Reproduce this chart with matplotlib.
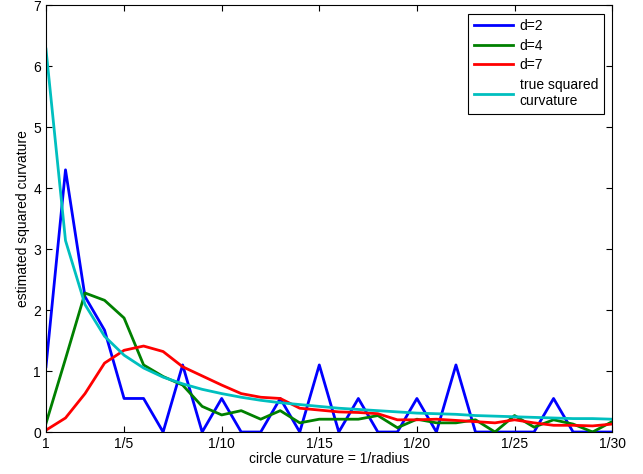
import numpy as np
import matplotlib.pyplot as plt

plt.rcParams['font.family'] = ['Liberation Sans', 'DejaVu Sans']

# x = 1..30 (radius), ticks shown as 1/r
r = np.arange(1, 31)
d2 = [1.07, 4.30, 2.22, 1.67, 0.55, 0.55, 0.0, 1.10, 0.0, 0.55,
      0.0, 0.0, 0.55, 0.0, 1.10, 0.0, 0.55, 0.0, 0.0, 0.55,
      0.0, 1.10, 0.0, 0.0, 0.0, 0.0, 0.55, 0.0, 0.0, 0.0]
d4 = [0.14, 1.20, 2.28, 2.16, 1.87, 1.10, 0.91, 0.77, 0.42, 0.28,
      0.35, 0.21, 0.35, 0.15, 0.21, 0.21, 0.21, 0.27, 0.07, 0.21,
      0.15, 0.15, 0.20, 0.0, 0.27, 0.08, 0.20, 0.13, 0.0, 0.17]
d7 = [0.03, 0.23, 0.63, 1.13, 1.34, 1.41, 1.32, 1.07, 0.92, 0.77,
      0.63, 0.57, 0.55, 0.39, 0.36, 0.33, 0.32, 0.30, 0.20, 0.20,
      0.21, 0.19, 0.17, 0.15, 0.20, 0.15, 0.11, 0.11, 0.10, 0.13]
true_curv = [6.28, 3.14, 2.09, 1.57, 1.26, 1.05, 0.90, 0.79, 0.70, 0.63,
             0.57, 0.52, 0.48, 0.45, 0.42, 0.39, 0.37, 0.35, 0.33, 0.31,
             0.30, 0.29, 0.27, 0.26, 0.25, 0.24, 0.23, 0.22, 0.22, 0.21]
xticks = [1, 5, 10, 15, 20, 25, 30]
xticklabels = ['1', '1/5', '1/10', '1/15', '1/20', '1/25', '1/30']

fig = plt.figure(figsize=(6.43, 4.74), dpi=100)
ax = fig.add_axes([0.0715, 0.0886, 0.8805, 0.9004])

ax.plot(r, d2, color='#0000ff', lw=2, label='d=2')
ax.plot(r, d4, color='#008000', lw=2, label='d=4')
ax.plot(r, d7, color='#ff0000', lw=2, label='d=7')
ax.plot(r, true_curv, color='#00bfbf', lw=2, label='true squared\ncurvature')

ax.set_xlim(1, 30)
ax.set_ylim(0, 7)
ax.set_xticks(xticks)
ax.set_xticklabels(xticklabels)
ax.set_yticks(range(8))
ax.tick_params(direction='in', top=True, right=True, labelsize=10, length=4)
ax.set_xlabel('circle curvature = 1/radius', fontsize=10, labelpad=1)
ax.set_ylabel('estimated squared curvature', fontsize=10, labelpad=2)

leg = ax.legend(loc='upper right', fontsize=10, handlelength=2.8, handletextpad=0.5,
                fancybox=False, framealpha=1, edgecolor='black',
                borderaxespad=0.6, labelspacing=0.4)
leg.get_frame().set_linewidth(0.8)

plt.savefig('out.png', dpi=100)
